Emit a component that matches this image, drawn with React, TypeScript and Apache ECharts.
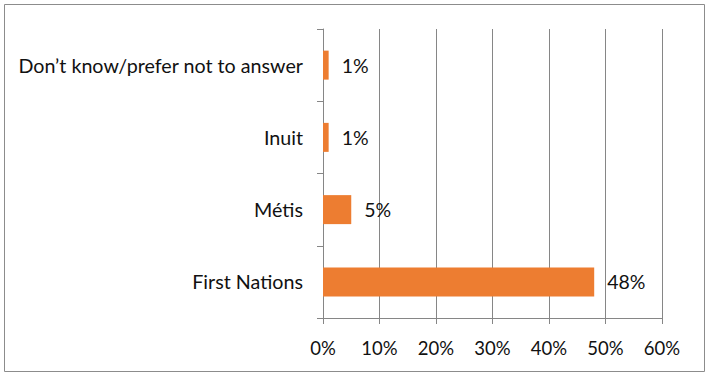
import React, { useEffect, useRef } from "react";
import * as echarts from "echarts";

const categories = ["First Nations", "Métis", "Inuit", "Don’t know/prefer not to answer"];
const values = [48, 5, 1, 1];
const tickMax = 60;
const tickInterval = 10;

export default function App() {
  const ref = useRef<HTMLDivElement>(null);
  useEffect(() => {
    document.body.style.margin = "0";
    const chart = echarts.init(ref.current!, null, { renderer: "svg" });
    const font = "Lato";
    chart.setOption({
      animation: false,
      backgroundColor: "#ffffff",
      graphic: [
        {
          type: "rect",
          shape: { x: 4.5, y: 4.5, width: 700, height: 367 },
          style: { fill: "none", stroke: "#8c8c8c", lineWidth: 1 },
          silent: true,
        },
      ],
      grid: { left: 323, top: 29, right: 48, bottom: 60 },
      xAxis: {
        type: "value",
        min: 0,
        max: tickMax,
        interval: tickInterval,
        axisLine: { show: true, lineStyle: { color: "#868686" } },
        axisTick: { show: true, length: 6, lineStyle: { color: "#868686" } },
        splitLine: { show: true, lineStyle: { color: "#868686", width: 1 } },
        axisLabel: {
          formatter: "{value}%",
          color: "#111111",
          fontFamily: font,
          fontSize: 18.5,
          margin: 20,
        },
      },
      yAxis: {
        type: "category",
        data: categories,
        axisLine: { show: true, lineStyle: { color: "#868686" } },
        axisTick: { show: true, length: 6, lineStyle: { color: "#868686" } },
        axisLabel: {
          color: "#111111",
          fontFamily: font,
          fontSize: 19.7,
          margin: 20,
        },
      },
      series: [
        {
          type: "bar",
          data: values,
          barWidth: 29,
          itemStyle: { color: "#ED7D31" },
          label: {
            show: true,
            position: "right",
            distance: 13,
            formatter: "{c}%",
            color: "#111111",
            fontFamily: font,
            fontSize: 19.5,
          },
        },
      ],
    });
    return () => chart.dispose();
  }, []);
  return <div ref={ref} style={{ width: 710, height: 378 }} />;
}
